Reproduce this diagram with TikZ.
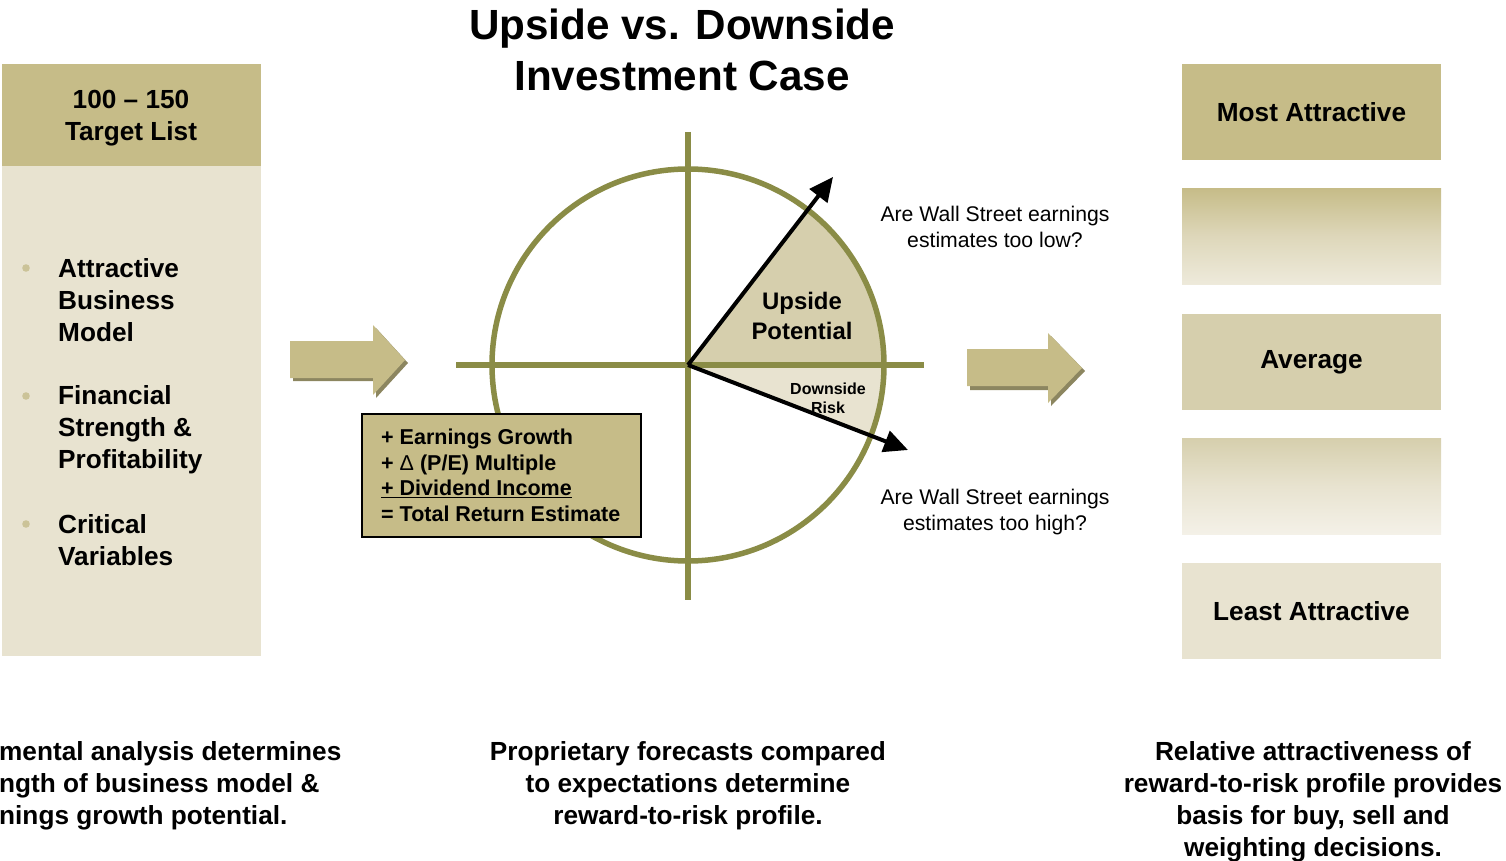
\documentclass[tikz,border=0pt]{standalone}
\usepackage{fontspec}
\setmainfont{Liberation Sans}
\usetikzlibrary{arrows.meta}
\definecolor{tanD}{HTML}{C6BC88}
\definecolor{tanM}{HTML}{D6CFAD}
\definecolor{tanL}{HTML}{E8E3D0}
\definecolor{fadeA}{HTML}{EEEADB}
\definecolor{fadeB}{HTML}{F4F1E8}
\definecolor{olive}{HTML}{8A8C46}
\definecolor{shadowc}{HTML}{8C8660}
\definecolor{bulletc}{HTML}{CBC398}
\begin{document}
\begin{tikzpicture}[x=1pt,y=-1pt,
  every node/.style={inner sep=0pt},
  bigtxt/.style={font=\bfseries\fontsize{26.2}{32}\selectfont},
  rbox/.style={minimum width=259pt, minimum height=96pt, bigtxt},
  axisline/.style={olive, line width=5.5pt},
  vec/.style={black, line width=4pt, -{Triangle[length=24pt,width=22pt]}},
  fatarrow/.style={fill=tanD},
  fatshadow/.style={fill=shadowc},
  question/.style={font=\fontsize{21.2}{26}\selectfont, align=center}]
\useasboundingbox (0,0) rectangle (1506,861);

% title
\node[font=\bfseries\fontsize{42.2}{51}\selectfont, align=center] (title) at (682,49.5) {Upside vs. Downside\\Investment Case};

% left column
\fill[tanL] (2,166) rectangle (261,656);
\node[fill=tanD, minimum width=259pt, minimum height=102pt] (hdrbox) at (131.5,115) {};
\node[bigtxt, align=center] (hdr) at (131,118.5) {100 – 150\\Target List};
\fill[bulletc] (26,268) circle (3.8);
\fill[bulletc] (26,396) circle (3.8);
\fill[bulletc] (26,524) circle (3.8);
\node[bigtxt, align=left, anchor=west] (b1) at (58,300.5) {Attractive\\Business\\Model};
\node[bigtxt, align=left, anchor=west] (b2) at (58,430) {Financial\\Strength \&\\Profitability};
\node[bigtxt, align=left, anchor=west] (b3) at (58,540.5) {Critical\\Variables};

% fat arrows
\fill[fatshadow] (293,343) -- (376,343) -- (376,328) -- (408,363) -- (376,398) -- (376,381) -- (293,381) -- cycle;
\fill[fatarrow] (290,341) -- (373,341) -- (373,325) -- (405,360) -- (373,395) -- (373,378) -- (290,378) -- cycle;
\fill[fatshadow] (970,352) -- (1051,352) -- (1051,336) -- (1085,371) -- (1051,406) -- (1051,390) -- (970,390) -- cycle;
\fill[fatarrow] (967,349) -- (1048,349) -- (1048,333) -- (1082,368) -- (1048,403) -- (1048,386) -- (967,386) -- cycle;

% circle diagram
\coordinate (O) at (688,365);
\coordinate (upTip) at (833,177);
\coordinate (downTip) at (908,450);
\fill[tanM] (O) -- ++(0:196) arc[start angle=0, end angle=-52.4, radius=196] -- cycle;
\fill[tanL] (O) -- ++(0:196) arc[start angle=0, end angle=21.2, radius=196] -- cycle;
\draw[axisline] (O) circle (196);
\coordinate (vTop) at (688,132);
\coordinate (vBot) at (688,600);
\coordinate (hL) at (456,365);
\coordinate (hR) at (924,365);
\draw[axisline] (vTop) -- (vBot);
\draw[axisline] (hL) -- (hR);
\draw[vec] (O) -- (upTip);
\draw[vec] (O) -- (downTip);
\node[font=\bfseries\fontsize{23.9}{30}\selectfont, align=center] (upl) at (802,315.5) {Upside\\Potential};
\node[font=\bfseries\fontsize{16}{19}\selectfont, align=center] (dnl) at (828,398) {Downside\\Risk};

\node[question] (q1) at (995,226.5) {Are Wall Street earnings\\estimates too low?};
\node[question] (q2) at (995,512.5) {Are Wall Street earnings\\estimates too high?};

% return box
\node[draw=black, line width=1.5pt, fill=tanD, minimum width=279pt, minimum height=123pt] (ebox) at (501.5,475.5) {};
\node[font=\bfseries\fontsize{21.5}{25.5}\selectfont, align=left, anchor=west] (etxt) at (381,475.5)
  {+ Earnings Growth\\+ {\mdseries Δ} (P/E) Multiple\\\underline{+ Dividend Income}\\= Total Return Estimate};

% right column
\node[rbox, fill=tanD] (r1) at (1311.5,112) {Most Attractive};
\node[rbox, top color=tanD, bottom color=fadeA, middle color=tanL!70!tanD] (r2) at (1311.5,236.5) {};
\node[rbox, fill=tanM] (r3) at (1311.5,362) {Average};
\node[rbox, top color=tanM, bottom color=fadeB, middle color=tanL] (r4) at (1311.5,486.5) {};
\node[rbox, fill=tanL] (r5) at (1311.5,611) {Least Attractive};

% bottom captions
\node[bigtxt, align=left, anchor=west] (c1) at (-1,786) {mental analysis determines\\ngth of business model \&\\nings growth potential.};
\node[bigtxt, align=center] (c2) at (688,786) {Proprietary forecasts compared\\to expectations determine\\reward-to-risk profile.};
\node[bigtxt, align=center] (c3) at (1313,802) {Relative attractiveness of\\reward-to-risk profile provides\\basis for buy, sell and\\weighting decisions.};
\end{tikzpicture}
\end{document}
